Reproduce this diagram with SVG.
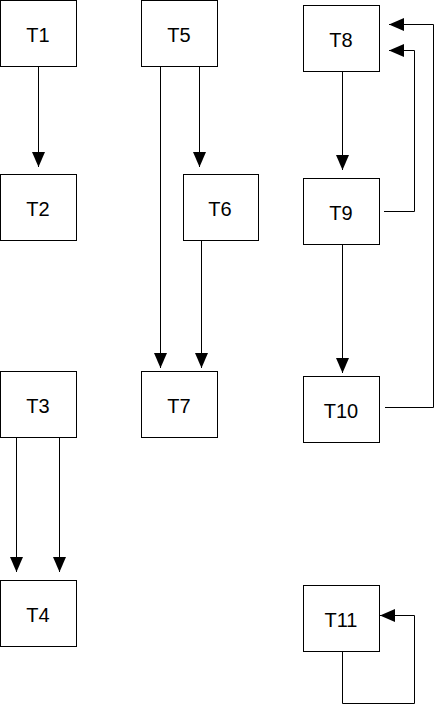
<svg xmlns="http://www.w3.org/2000/svg" width="434" height="705" viewBox="0 0 434 705">
<style>
.box{fill:#fff;stroke:#000;stroke-width:1}
.lbl{font-family:"Liberation Sans",Arial,sans-serif;font-size:20px;fill:#000;text-anchor:middle}
.edge{fill:none;stroke:#000;stroke-width:1;marker-end:url(#ah)}
.edge2{fill:none;stroke:#000;stroke-width:1}
</style>
<defs>
<marker id="ah" markerUnits="userSpaceOnUse" markerWidth="16" markerHeight="14" refX="15" refY="6.5" orient="auto" viewBox="0 0 16 14">
<path d="M0,0 L15,6.5 L0,13 Z" fill="#000"/>
</marker>
</defs>
<rect width="434" height="705" fill="#fff"/>
<g id="connectors">
<path class="edge" d="M38.5,67 V167"/>
<path class="edge" d="M160.5,67 V368"/>
<path class="edge" d="M199.5,67 V167"/>
<path class="edge" d="M201.5,241 V368"/>
<path class="edge" d="M16.5,438 V572"/>
<path class="edge" d="M59.5,438 V572"/>
<path class="edge" d="M342.5,72 V170"/>
<path class="edge" d="M342.5,245 V373"/>
<path class="edge" d="M384,211.5 H414.5 V50.5 H389"/>
<path class="edge" d="M385,407.5 H433.5 V24.5 H389"/>
<path class="edge" d="M342.5,652 V703.5 H414.5 V615.5 H380"/>
</g>
<g id="T1"><rect class="box" x="0.5" y="0.5" width="76" height="66"/><text class="lbl" x="38" y="42">T1</text></g>
<g id="T2"><rect class="box" x="0.5" y="174.5" width="76" height="66"/><text class="lbl" x="38" y="216">T2</text></g>
<g id="T3"><rect class="box" x="0.5" y="371.5" width="76" height="66"/><text class="lbl" x="38" y="413">T3</text></g>
<g id="T4"><rect class="box" x="0.5" y="580.5" width="76" height="66"/><text class="lbl" x="38" y="622">T4</text></g>
<g id="T5"><rect class="box" x="141.5" y="0.5" width="76" height="66"/><text class="lbl" x="179" y="42">T5</text></g>
<g id="T6"><rect class="box" x="183.5" y="174.5" width="75" height="66"/><text class="lbl" x="220" y="216">T6</text></g>
<g id="T7"><rect class="box" x="141.5" y="371.5" width="76" height="66"/><text class="lbl" x="179" y="413">T7</text></g>
<g id="T8"><rect class="box" x="303.5" y="5.5" width="76" height="66"/><text class="lbl" x="341" y="47">T8</text></g>
<g id="T9"><rect class="box" x="303.5" y="178.5" width="76" height="66"/><text class="lbl" x="341" y="220">T9</text></g>
<g id="T10"><rect class="box" x="303.5" y="376.5" width="76" height="66"/><text class="lbl" x="341" y="418">T10</text></g>
<g id="T11"><rect class="box" x="303.5" y="585.5" width="76" height="66"/><text class="lbl" x="341" y="627">T11</text></g>
</svg>
